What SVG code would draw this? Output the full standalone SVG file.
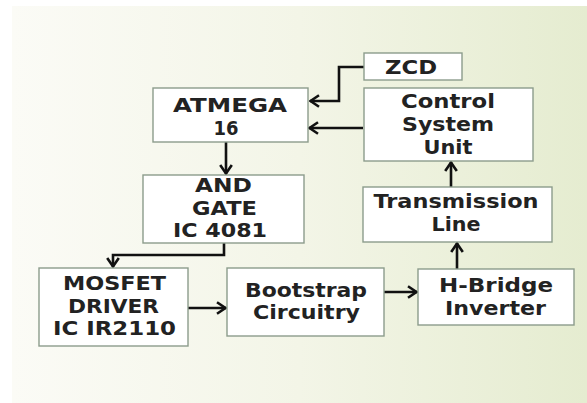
<svg xmlns="http://www.w3.org/2000/svg" width="587" height="403" viewBox="0 0 587 403">
<defs>
<linearGradient id="bg" x1="0" y1="0" x2="1" y2="0">
<stop offset="0" stop-color="#fbfbf6"/>
<stop offset="0.5" stop-color="#f3f5e7"/>
<stop offset="1" stop-color="#e5ecd0"/>
</linearGradient>
<marker id="ah" viewBox="0 0 12 14" refX="10.5" refY="7" markerWidth="12" markerHeight="14" markerUnits="userSpaceOnUse" orient="auto">
<path d="M1.5,1.2 L10,7 L1.5,12.8" fill="none" stroke="#111" stroke-width="2.6"/>
</marker>
</defs>
<style>
.box{fill:#ffffff;stroke:#8c9c8c;stroke-width:1.4}
.t{font-family:"DejaVu Sans","Liberation Sans",sans-serif;font-weight:bold;font-size:20px;fill:#222;text-anchor:middle}
.c{fill:none;stroke:#111;stroke-width:2.6;marker-end:url(#ah)}
</style>
<rect x="0" y="0" width="587" height="403" fill="#ffffff"/>
<rect x="12" y="6" width="575" height="397" fill="url(#bg)"/>

<g id="connectors">
<path class="c" d="M364,67 H339 V101 H310"/>
<path class="c" d="M363,128 H309"/>
<path class="c" d="M226,142 V174"/>
<path class="c" d="M224,243 V255 H113 V267"/>
<path class="c" d="M188,308 H226"/>
<path class="c" d="M384,292 H417"/>
<path class="c" d="M457,269 V243"/>
<path class="c" d="M451,187 V162"/>
</g>

<g id="zcd">
<rect class="box" x="364" y="53" width="98" height="27"/>
<text class="t" x="411" y="74" textLength="52" lengthAdjust="spacingAndGlyphs">ZCD</text>
</g>

<g id="atmega">
<rect class="box" x="153" y="88" width="155" height="54"/>
<text class="t" x="230" y="112" textLength="114" lengthAdjust="spacingAndGlyphs">ATMEGA</text>
<text class="t" x="226" y="135" textLength="25" lengthAdjust="spacingAndGlyphs">16</text>
</g>

<g id="control">
<rect class="box" x="364" y="88" width="169" height="73"/>
<text class="t" x="448" y="108" textLength="94" lengthAdjust="spacingAndGlyphs">Control</text>
<text class="t" x="448" y="131" textLength="92" lengthAdjust="spacingAndGlyphs">System</text>
<text class="t" x="448" y="154" textLength="49" lengthAdjust="spacingAndGlyphs">Unit</text>
</g>

<g id="transmission">
<rect class="box" x="363" y="187" width="189" height="55"/>
<text class="t" x="456" y="208" textLength="165" lengthAdjust="spacingAndGlyphs">Transmission</text>
<text class="t" x="456" y="231" textLength="49" lengthAdjust="spacingAndGlyphs">Line</text>
</g>

<g id="andgate">
<rect class="box" x="143" y="175" width="161" height="68"/>
<text class="t" x="223.5" y="192" textLength="57" lengthAdjust="spacingAndGlyphs">AND</text>
<text class="t" x="224.5" y="215" textLength="65" lengthAdjust="spacingAndGlyphs">GATE</text>
<text class="t" x="220" y="237" textLength="94" lengthAdjust="spacingAndGlyphs">IC 4081</text>
</g>

<g id="mosfet">
<rect class="box" x="39" y="268" width="149" height="78"/>
<text class="t" x="114.5" y="290" textLength="103" lengthAdjust="spacingAndGlyphs">MOSFET</text>
<text class="t" x="113.5" y="313" textLength="91" lengthAdjust="spacingAndGlyphs">DRIVER</text>
<text class="t" x="114.5" y="335" textLength="123" lengthAdjust="spacingAndGlyphs">IC IR2110</text>
</g>

<g id="bootstrap">
<rect class="box" x="227" y="268" width="157" height="68"/>
<text class="t" x="306" y="297" textLength="122" lengthAdjust="spacingAndGlyphs">Bootstrap</text>
<text class="t" x="306.5" y="319" textLength="107" lengthAdjust="spacingAndGlyphs">Circuitry</text>
</g>

<g id="hbridge">
<rect class="box" x="418" y="269" width="156" height="56"/>
<text class="t" x="496" y="292" textLength="114" lengthAdjust="spacingAndGlyphs">H-Bridge</text>
<text class="t" x="495.5" y="315" textLength="101" lengthAdjust="spacingAndGlyphs">Inverter</text>
</g>
</svg>
